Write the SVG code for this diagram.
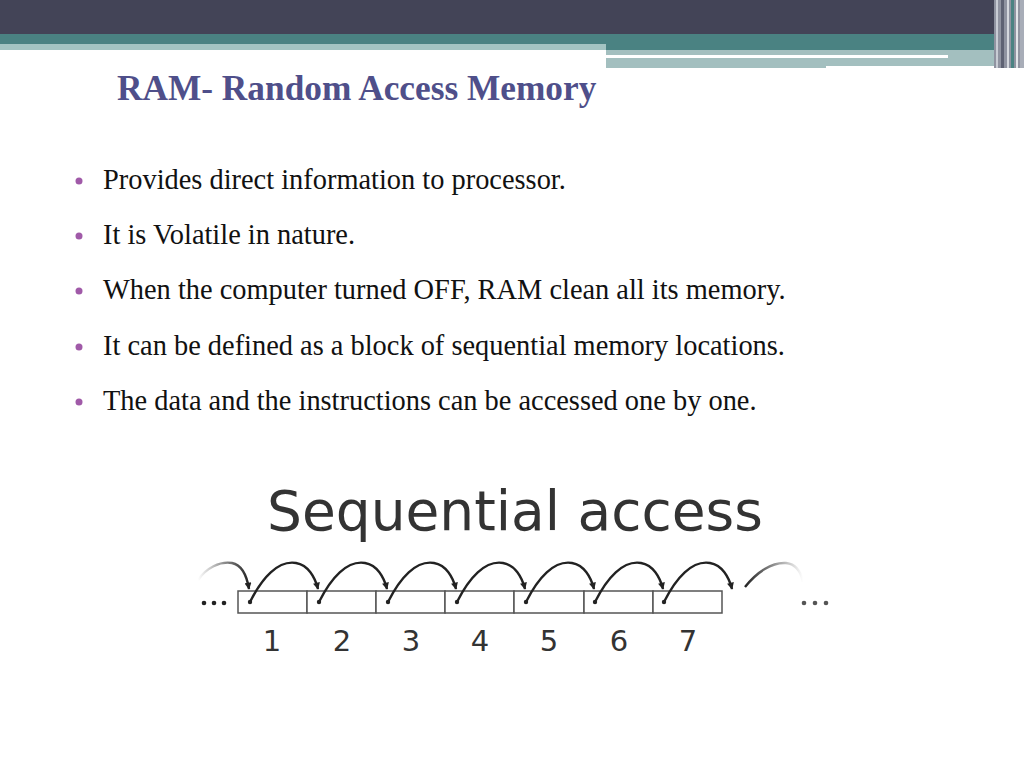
<svg xmlns="http://www.w3.org/2000/svg" width="1024" height="768" viewBox="0 0 1024 768">
<defs>
<marker id="ah" viewBox="0 0 10 10" refX="9" refY="5" markerWidth="8" markerHeight="7" orient="auto" markerUnits="userSpaceOnUse">
<path d="M0,0 L10,5 L0,10 z" fill="#222"/>
</marker>
<style>
.bt{font-family:"Liberation Serif","Times New Roman",serif;font-size:28.4px;fill:#111}
.bl{fill:#a05aa8}
.cell{fill:#fff;stroke:#555;stroke-width:1.5}
.num{font-family:"DejaVu Sans",Verdana,sans-serif;font-size:29px;fill:#333;text-anchor:middle}
.arc{fill:none;stroke:#222;stroke-width:2.4}
.dot{fill:#222}
</style>
<linearGradient id="fade" x1="0" x2="1" y1="0" y2="0">
<stop offset="0" stop-color="#222"/>
<stop offset="1" stop-color="#222" stop-opacity="0"/>
</linearGradient>
<linearGradient id="fadeL" x1="0" x2="1" y1="0" y2="0">
<stop offset="0" stop-color="#222" stop-opacity="0"/>
<stop offset="1" stop-color="#222"/>
</linearGradient>
</defs>
<rect width="1024" height="768" fill="#fff"/>
<g id="header">
<rect x="0" y="0" width="1024" height="34" fill="#434457"/>
<rect x="0" y="34" width="1024" height="16" fill="#4a8282"/>
<rect x="0" y="44" width="606" height="6" fill="#a3c4c2"/>
<rect x="606" y="50" width="389" height="16" fill="#a3bfbf"/>
<rect x="606" y="66" width="220" height="2" fill="#a3bfbf"/>
<rect x="606" y="55" width="342" height="3" fill="#fff"/>
<rect x="994" y="0" width="30" height="68" fill="#8f93a0"/>
<rect x="996" y="0" width="2" height="68" fill="#c8ccd4"/>
<rect x="1001" y="0" width="3" height="68" fill="#5e6273"/>
<rect x="1007" y="0" width="2" height="68" fill="#d5d8de"/>
<rect x="1011" y="0" width="3" height="68" fill="#4a8282"/>
<rect x="1016" y="0" width="2" height="68" fill="#e1e4e8"/>
<rect x="1020" y="0" width="4" height="68" fill="#a8adb8"/>
</g>
<g id="title">
<text x="117" y="100" font-family="'Liberation Serif','Times New Roman',serif" font-size="35.3" font-weight="bold" fill="#4f4f8a">RAM- Random Access Memory</text>
</g>
<g id="bullets">
<circle class="bl" cx="79" cy="181" r="3.5"/>
<text class="bt" x="103" y="189">Provides direct information to processor.</text>
<circle class="bl" cx="79" cy="236" r="3.5"/>
<text class="bt" x="103" y="244">It is Volatile in nature.</text>
<circle class="bl" cx="79" cy="291" r="3.5"/>
<text class="bt" x="103" y="299">When the computer turned OFF, RAM clean all its memory.</text>
<circle class="bl" cx="79" cy="347" r="3.5"/>
<text class="bt" x="103" y="355">It can be defined as a block of sequential memory locations.</text>
<circle class="bl" cx="79" cy="402" r="3.5"/>
<text class="bt" x="103" y="410">The data and the instructions can be accessed one by one.</text>
</g>
<g id="seq-title">
<text x="267" y="530" font-family="'DejaVu Sans',Verdana,sans-serif" font-size="55" fill="#333">Sequential access</text>
</g>
<g id="cells">
<rect class="cell" x="238" y="591" width="69" height="22"/>
<rect class="cell" x="307" y="591" width="69" height="22"/>
<rect class="cell" x="376" y="591" width="69" height="22"/>
<rect class="cell" x="445" y="591" width="69" height="22"/>
<rect class="cell" x="514" y="591" width="70" height="22"/>
<rect class="cell" x="584" y="591" width="69" height="22"/>
<rect class="cell" x="653" y="591" width="69" height="22"/>
</g>
<g id="labels">
<text class="num" x="272" y="651">1</text>
<text class="num" x="342" y="651">2</text>
<text class="num" x="411" y="651">3</text>
<text class="num" x="480" y="651">4</text>
<text class="num" x="549" y="651">5</text>
<text class="num" x="619" y="651">6</text>
<text class="num" x="688" y="651">7</text>
</g>
<g id="ellipses">
<circle class="dot" cx="204" cy="603" r="2.3"/><circle class="dot" cx="214" cy="603" r="2.3"/><circle class="dot" cx="224" cy="603" r="2.3"/>
<circle cx="804" cy="603" r="2.3" fill="#555"/><circle cx="815" cy="603" r="2.3" fill="#555"/><circle cx="826" cy="603" r="2.3" fill="#555"/>
</g>
<g id="connectors">
<path d="M198,580 C206,568 220,561 232,563 C242,565 247,577 249,589" fill="none" stroke="url(#fadeL)" stroke-width="2.4" marker-end="url(#ah)"/>
<path class="arc" d="M250,602 C262,578 278,560 296,563 C308,565 315,577 318,589" marker-end="url(#ah)"/>
<path class="arc" d="M319,602 C331,578 347,560 365,563 C377,565 384,577 387,589" marker-end="url(#ah)"/>
<path class="arc" d="M388,602 C400,578 416,560 434,563 C446,565 453,577 456,589" marker-end="url(#ah)"/>
<path class="arc" d="M457,602 C469,578 485,560 503,563 C515,565 522,577 525,589" marker-end="url(#ah)"/>
<path class="arc" d="M526,602 C538,578 554,560 572,563 C584,565 591,577 594,589" marker-end="url(#ah)"/>
<path class="arc" d="M595,602 C607,578 623,560 641,563 C653,565 660,577 663,589" marker-end="url(#ah)"/>
<path class="arc" d="M664,602 C676,578 692,560 710,563 C722,565 729,577 732,589" marker-end="url(#ah)"/>
<path d="M745,587 C757,572 772,562 786,563 C796,564 801,572 803,582" fill="none" stroke="url(#fade)" stroke-width="2.4"/>
<circle class="dot" cx="250" cy="602" r="2.2"/>
<circle class="dot" cx="319" cy="602" r="2.2"/>
<circle class="dot" cx="388" cy="602" r="2.2"/>
<circle class="dot" cx="457" cy="602" r="2.2"/>
<circle class="dot" cx="526" cy="602" r="2.2"/>
<circle class="dot" cx="595" cy="602" r="2.2"/>
<circle class="dot" cx="664" cy="602" r="2.2"/>
</g>
</svg>
